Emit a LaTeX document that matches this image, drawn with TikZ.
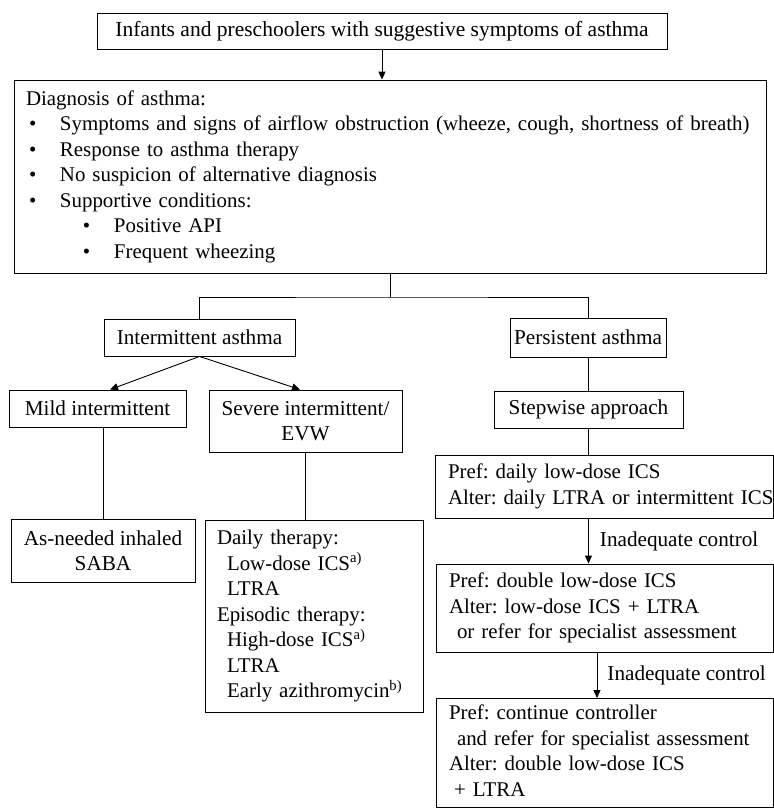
\documentclass[tikz,border=0pt]{standalone}
\usepackage{fontspec}
\setmainfont{Liberation Serif}
\usetikzlibrary{arrows.meta}
\newcommand{\bul}[1]{\hspace*{#1}\makebox[31pt][l]{\textbullet}}
\newcommand{\padded}[2]{\hspace*{#1}\begin{tabular}{@{}l@{}}#2\end{tabular}}

\begin{document}
\begin{tikzpicture}[x=1pt, y=-1pt, line width=0.9pt,
            box/.style={draw, inner sep=0pt, align=center, font=\fontsize{21.2}{25.5}\selectfont\frenchspacing},
            lbox/.style={box, align=left, inner xsep=0pt, text width=#1, font=\fontsize{20.9}{25.5}\selectfont\frenchspacing},
            arr/.style={-{Triangle[length=8pt, width=7pt]}},
            lbl/.style={anchor=west, inner sep=0pt, font=\fontsize{21.2}{25.5}\selectfont}]
            \useasboundingbox (0,0) rectangle (774,809);
            \node[box, minimum width=570pt, minimum height=36pt, font=\fontsize{21.5}{25.5}\selectfont] (top) at (382,31) {Infants and preschoolers with suggestive symptoms of asthma};
            \node[lbox=752pt, minimum height=193pt] (diag) at (390,176.5) {\padded{12pt}{Diagnosis of asthma:\\
                \bul{3pt}Symptoms and signs of airflow obstruction (wheeze, cough, shortness of breath)\\
                \bul{3pt}Response to asthma therapy\\
                \bul{3pt}No suspicion of alternative diagnosis\\
                \bul{3pt}Supportive conditions:\\
                \bul{57pt}Positive API\\
                \bul{57pt}Frequent wheezing}};
            \node[box, minimum width=191pt, minimum height=37pt] (inter) at (199.5,337.5) {Intermittent asthma};
            \node[box, minimum width=156pt, minimum height=39pt] (pers) at (588,337.5) {Persistent asthma};
            \node[box, minimum width=177pt, minimum height=37pt] (mild) at (97.5,408.5) {Mild intermittent};
            \node[box, minimum width=193pt, minimum height=62pt] (severe) at (305.5,421) {Severe intermittent/\\EVW};
            \node[box, minimum width=184pt, minimum height=63pt] (saba) at (103,550.5) {As-needed inhaled\\SABA};
            \node[lbox=218pt, minimum height=192pt] (daily) at (314,616) {\padded{12pt}{Daily therapy:\\
                \hspace*{10pt}Low-dose ICS\textsuperscript{a)}\\
                \hspace*{10pt}LTRA\\
                Episodic therapy:\\
                \hspace*{10pt}High-dose ICS\textsuperscript{a)}\\
                \hspace*{10pt}LTRA\\
                \hspace*{10pt}Early azithromycin\textsuperscript{b)}}};
            \node[box, minimum width=189pt, minimum height=37pt] (step) at (588.5,409.5) {Stepwise approach};
            \node[lbox=338pt, minimum height=63pt] (pref1) at (604,486.5) {\padded{13pt}{Pref: daily low-dose ICS\\
                Alter: daily LTRA or intermittent ICS}};
            \node[lbox=337pt, minimum height=88pt] (pref2) at (604.5,608) {\padded{13pt}{Pref: double low-dose ICS\\
                Alter: low-dose ICS + LTRA\\
                \hspace*{8pt}or refer for specialist assessment}};
            \node[lbox=337pt, minimum height=109pt] (pref3) at (604.5,753) {\padded{13pt}{Pref: continue controller\\
                \hspace*{8pt}and refer for specialist assessment\\
                Alter: double low-dose ICS\\
                \hspace*{5pt}+ LTRA}};
            \coordinate (split) at (390,297);
            \draw[arr] (top.south) -- (top.south |- diag.north);
            \draw (diag.south) -- (split);
            \draw (inter.north) |- (split) -| (pers.north);
            \draw[arr] (inter.south) -- ([xshift=12.5pt]mild.north);
            \draw[arr] (inter.south) -- ([xshift=-5.5pt]severe.north);
            \draw (saba.north |- mild.south) -- (saba.north);
            \draw (severe.south) -- (severe.south |- daily.north);
            \draw (pers.south) -- (pers.south |- step.north);
            \draw (step.south) -- (step.south |- pref1.north);
            \draw[arr] (step.south |- pref1.south) -- (step.south |- pref2.north) node[lbl, midway, xshift=11pt] {Inadequate control};
            \draw[arr] ([xshift=-7.5pt]pref2.south) -- ([xshift=-7.5pt]pref3.north) node[lbl, midway, xshift=10pt] {Inadequate control};
        \end{tikzpicture}
\end{document}
